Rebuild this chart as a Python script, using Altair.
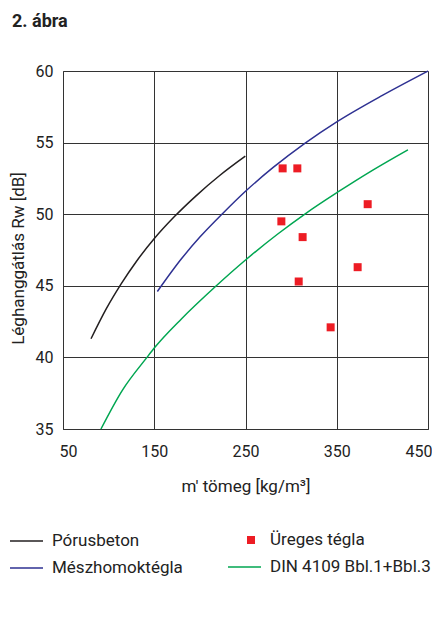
import altair as alt
import pandas as pd

title_text = "2. ábra"
x_title = "m' tömeg [kg/m³]"
y_title = "Léghanggátlás Rw [dB]"

series_names = ["Pórusbeton", "Üreges tégla", "Mészhomoktégla", "DIN 4109 Bbl.1+Bbl.3"]
series_colors = ["#231f20", "#ed1c24", "#2e3192", "#00a651"]

x_ticks = [50, 150, 250, 350, 450]
y_ticks = [35, 40, 45, 50, 55, 60]

porus_m = [80.7, 97.5, 113.9, 130.4, 150.1, 172.4, 196.1, 221.7, 249.8]
porus_rw = [41.3, 43.4, 45.15, 46.7, 48.3, 49.85, 51.3, 52.7, 54.05]

mesz_m = [153.4, 180, 200, 225, 250, 280, 315, 350, 400, 450]
mesz_rw = [44.6, 46.9, 48.4, 50.05, 51.6, 53.25, 54.95, 56.45, 58.3, 60.0]

din_m = [91.6, 115, 142, 150, 180, 218, 250, 285, 317, 350, 390, 428]
din_rw = [35.0, 37.7, 40.0, 40.65, 42.7, 45.0, 46.8, 48.6, 50.1, 51.5, 53.1, 54.5]

ureges_m = [290.7, 306.8, 383.9, 289.3, 312.6, 372.9, 308.3, 343.3]
ureges_rw = [53.2, 53.2, 50.7, 49.5, 48.4, 46.3, 45.3, 42.1]


def make_df(name, xs, ys):
    return pd.DataFrame({"series": name, "m": xs, "rw": ys, "i": list(range(len(xs)))})


left_df = pd.concat([make_df(series_names[0], porus_m, porus_rw),
                     make_df(series_names[2], mesz_m, mesz_rw)])
din_df = make_df(series_names[3], din_m, din_rw)
points_df = make_df(series_names[1], ureges_m, ureges_rw)

FONT = "Roboto"
TXT = "#222222"
GRID = "#333333"

x_enc = alt.X("m:Q", scale=alt.Scale(domain=[50, 450], nice=False, zero=False),
              axis=alt.Axis(values=x_ticks, title=x_title, ticks=False, labelPadding=14,
                            labelFontSize=16, labelFont=FONT, labelColor=TXT,
                            labelFlush=True, labelFlushOffset=4,
                            titleFontSize=17, titleFont=FONT, titleFontWeight="normal",
                            titleColor=TXT, titleY=57, titleBaseline="middle",
                            grid=True, gridColor=GRID, gridOpacity=1, gridWidth=1,
                            domainColor=GRID))
y_enc = alt.Y("rw:Q", scale=alt.Scale(domain=[35, 60], nice=False, zero=False),
              axis=alt.Axis(values=y_ticks, title=y_title, ticks=False, labelPadding=10,
                            labelFontSize=16, labelFont=FONT, labelColor=TXT,
                            titleFontSize=17, titleFont=FONT, titleFontWeight="normal",
                            titleColor=TXT, titleX=-45, titleY=187, titleBaseline="middle",
                            grid=True, gridColor=GRID, gridOpacity=1, gridWidth=1,
                            domainColor=GRID, labelFlush=False))

common_legend = dict(title=None, orient="none", padding=0, clipHeight=16, labelLimit=300,
                     labelFont=FONT, labelFontSize=17, labelColor=TXT)

legend_left = alt.Legend(legendX=-54, legendY=462, direction="vertical", rowPadding=10,
                         symbolType="stroke", symbolSize=1089, symbolStrokeWidth=1.5,
                         labelOffset=8, **common_legend)
legend_din = alt.Legend(legendX=164, legendY=488, direction="vertical",
                        symbolType="stroke", symbolSize=1089, symbolStrokeWidth=1.5,
                        labelOffset=8, **common_legend)
legend_pts = alt.Legend(legendX=179.5, legendY=461, direction="vertical",
                        symbolType="square", symbolSize=64, symbolStrokeWidth=0,
                        labelOffset=10.5, **common_legend)

lines_left = alt.Chart(left_df).mark_line(strokeWidth=1.5, interpolate="monotone").encode(
    x=x_enc, y=y_enc,
    stroke=alt.Stroke("series:N",
                      scale=alt.Scale(domain=[series_names[0], series_names[2]],
                                      range=[series_colors[0], series_colors[2]]),
                      legend=legend_left),
    detail="series:N",
    order="i:Q",
)

line_din = alt.Chart(din_df).mark_line(strokeWidth=1.5, interpolate="monotone").encode(
    x="m:Q", y="rw:Q",
    color=alt.Color("series:N",
                    scale=alt.Scale(domain=[series_names[3]], range=[series_colors[3]]),
                    legend=legend_din),
    order="i:Q",
)

points = alt.Chart(points_df).mark_square(size=64, opacity=1).encode(
    x="m:Q", y="rw:Q",
    fill=alt.Fill("series:N",
                  scale=alt.Scale(domain=[series_names[1]], range=[series_colors[1]]),
                  legend=legend_pts),
)

chart = alt.layer(lines_left, line_din, points).resolve_legend(
    color="independent", stroke="independent", fill="independent"
).properties(
    width=365, height=358,
    padding={"left": 55, "top": 63, "right": 4, "bottom": 150},
    autosize=alt.AutoSizeParams(type="none"),
    title=alt.TitleParams(title_text, anchor="start", frame="group", dx=-51,
                          font=FONT, fontSize=18, fontWeight="bold", color=TXT,
                          baseline="alphabetic", offset=18),
).configure_view(stroke=GRID, strokeWidth=1).configure(background="white")

chart.save("out.html", embed_options={"renderer": "svg", "actions": False})
